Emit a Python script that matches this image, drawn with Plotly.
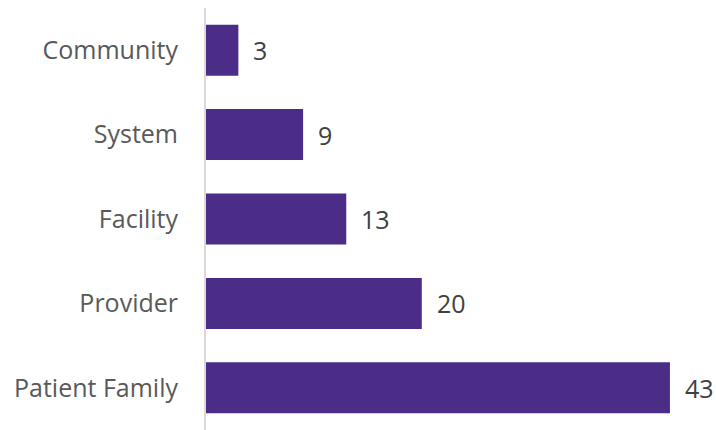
import plotly.graph_objects as go

categories = ["Community", "System", "Facility", "Provider", "Patient Family"]
counts = [3, 9, 13, 20, 43]

bar_color = "#4B2C86"
font_family = "'Open Sans', Lato, sans-serif"

fig = go.Figure(
    go.Bar(
        x=counts,
        y=categories,
        orientation="h",
        marker=dict(color=bar_color, line=dict(width=0)),
        hoverinfo="skip",
    )
)

# value labels to the right of each bar
for cat, val in zip(categories, counts):
    fig.add_annotation(
        x=val, y=cat, text=str(val), showarrow=False,
        xanchor="left", yanchor="middle", xshift=13,
        font=dict(family=font_family, size=25, color="#404040"),
    )

fig.update_layout(
    width=716, height=430,
    margin=dict(l=206, r=0, t=8, b=0),
    paper_bgcolor="white", plot_bgcolor="white",
    bargap=0.396,
    showlegend=False,
    font=dict(family=font_family),
)
fig.update_xaxes(range=[0, 47.27], visible=False, fixedrange=True)
fig.update_yaxes(
    categoryorder="array", categoryarray=categories, autorange="reversed",
    showline=True, linecolor="#d9d9d9", linewidth=2,
    showgrid=False, zeroline=False, ticks="",
    ticklabelstandoff=21,
    tickfont=dict(family=font_family, size=25, color="#595959"),
)

fig.write_html("out.html")
